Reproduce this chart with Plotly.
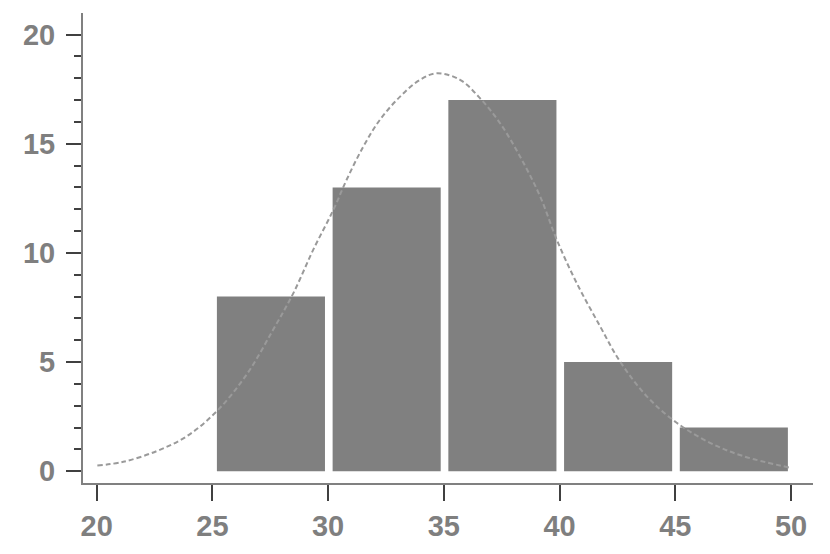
import plotly.graph_objects as go

# histogram bins (left edges) and counts
bin_left = [25, 30, 35, 40, 45]
counts = [8, 13, 17, 5, 2]
bin_size = 5

# fitted curve
curve_x = [20.03, 21.15, 22.59, 23.89, 25.19, 26.48, 27.63, 28.50, 29.36, 30.23,
           30.80, 31.52, 32.24, 33.11, 33.97, 34.69, 35.70, 36.56, 37.43, 38.29,
           39.16, 39.88, 40.74, 41.75, 42.61, 43.77, 45.06, 46.50, 47.94, 49.96]
curve_y = [0.26, 0.43, 0.92, 1.60, 2.75, 4.43, 6.49, 8.16, 10.15, 11.98,
           13.35, 14.87, 16.10, 17.16, 17.93, 18.23, 17.93, 17.09, 15.94, 14.42,
           12.59, 10.60, 8.62, 6.64, 5.03, 3.43, 2.22, 1.30, 0.69, 0.16]

tick_vals = [20, 25, 30, 35, 40, 45, 50]

bar_x = [b + bin_size / 2 + 0.03 for b in bin_left]

fig = go.Figure()
fig.add_trace(go.Bar(x=bar_x, y=counts, width=4.67,
                     marker=dict(color="#808080", line=dict(width=0))))
fig.add_trace(go.Scatter(x=curve_x, y=curve_y, mode="lines",
                         line=dict(color="#9a9a9a", width=2, dash="5px,3px", shape="spline")))

tickfont = dict(family="Liberation Sans", size=29, color="#7f7f7f", weight="bold")

# page body has an 8px margin, so the margins are shifted to compensate
fig.update_layout(
    width=830, height=554,
    margin=dict(l=75, r=25, t=5, b=79),
    plot_bgcolor="white", paper_bgcolor="white",
    showlegend=False,
    xaxis=dict(range=[19.41, 50.95], tickvals=tick_vals, showgrid=False, zeroline=False,
               showline=True, linecolor="#808080", linewidth=2, automargin=False,
               ticks="outside", ticklen=16, tickwidth=2, tickcolor="#404040",
               tickfont=tickfont),
    yaxis=dict(range=[-0.54, 20.99], tickvals=[0, 5, 10, 15, 20], showgrid=False, zeroline=False,
               showline=True, linecolor="#808080", linewidth=2, automargin=False,
               ticks="outside", ticklen=15, tickwidth=2, tickcolor="#404040",
               ticklabelstandoff=5,
               minor=dict(dtick=1, ticks="outside", ticklen=7, tickwidth=2,
                          tickcolor="#404040", showgrid=False),
               tickfont=tickfont),
)

fig.write_html("out.html")
